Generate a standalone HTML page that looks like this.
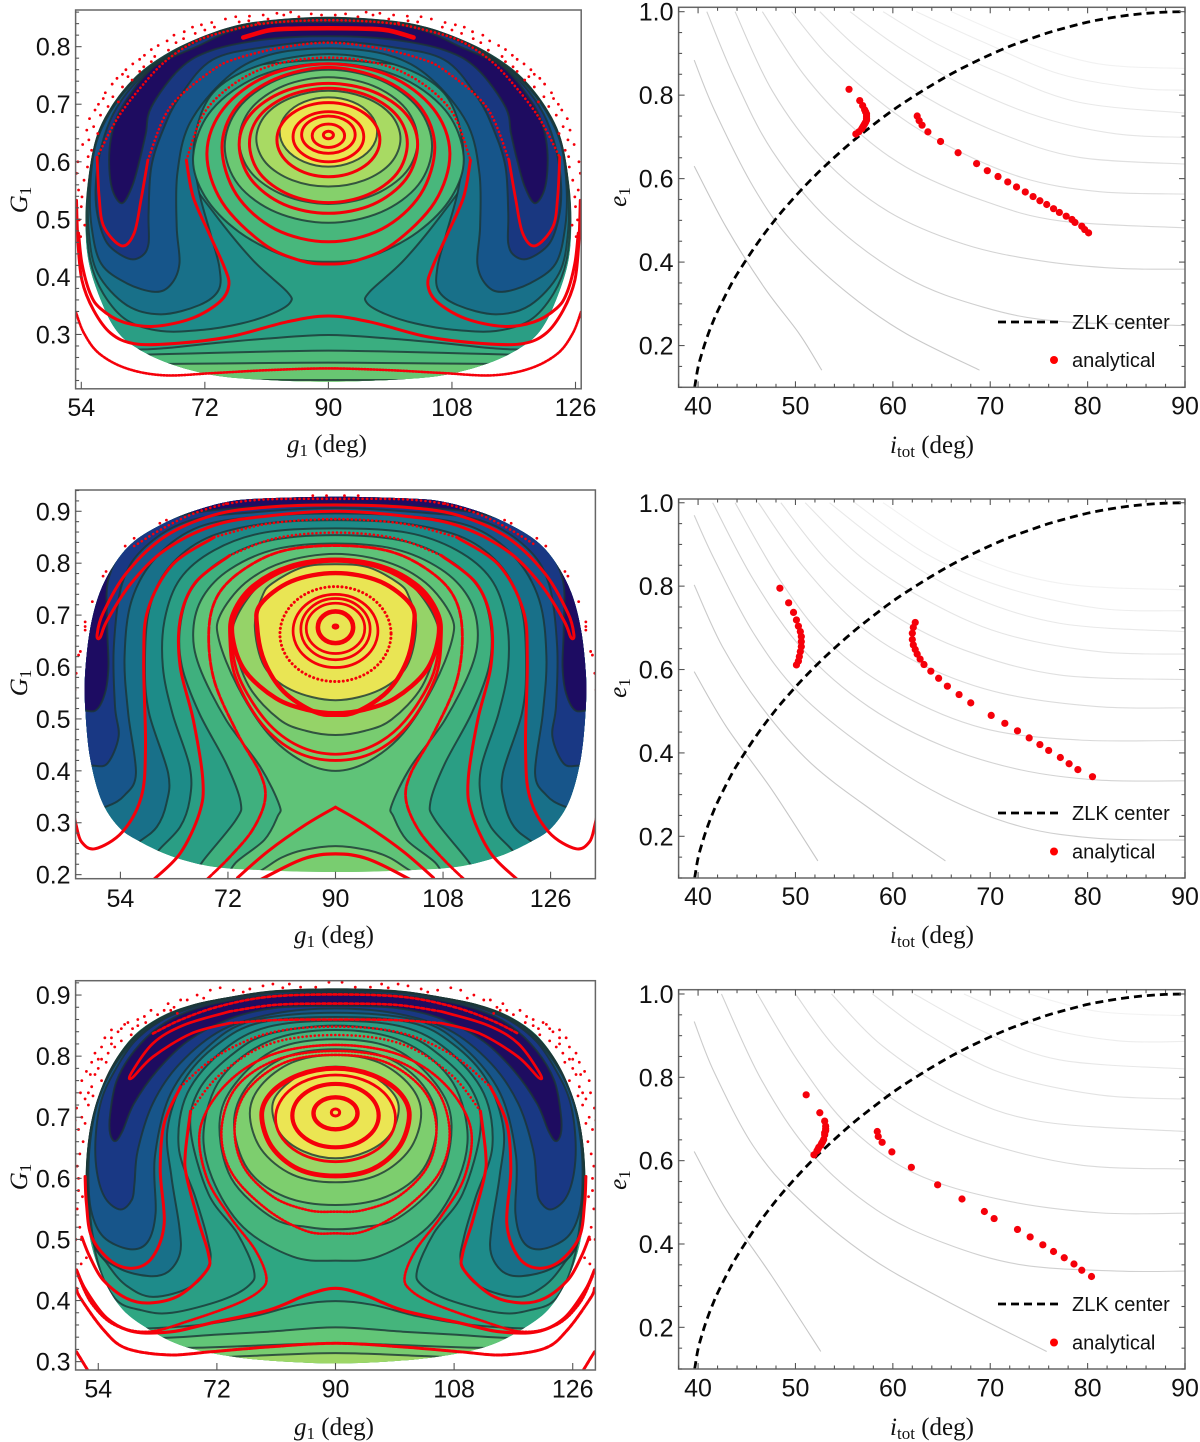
<!DOCTYPE html>
<html lang="en">
<head>
<meta charset="utf-8">
<title>ZLK phase portraits</title>
<style>
html,body{margin:0;padding:0;background:#fff;}
svg{display:block;}
text{fill:#111;}
.sans{font-family:"Liberation Sans",Arial,sans-serif;}
.serif{font-family:"Liberation Serif","Times New Roman",serif;}
</style>
</head>
<body>
<svg id="figure" xmlns="http://www.w3.org/2000/svg" width="1200" height="1442" viewBox="0 0 1200 1442">
  <rect x="0" y="0" width="1200" height="1442" fill="#fff"/>

  <text class="serif" x="327" y="452" font-size="25" text-anchor="middle"><tspan font-style="italic">g</tspan><tspan font-size="17" dy="4">1</tspan><tspan dy="-4"> (deg)</tspan></text>
  <text class="serif" x="27" y="200" font-size="25" text-anchor="middle" transform="rotate(-90 27 200)"><tspan font-style="italic">G</tspan><tspan font-size="17" dy="4">1</tspan></text>
  <text class="serif" x="932" y="453" font-size="25" text-anchor="middle"><tspan font-style="italic">i</tspan><tspan font-size="17" dy="4">tot</tspan><tspan dy="-4"> (deg)</tspan></text>
  <text class="serif" x="626" y="197" font-size="25" text-anchor="middle" transform="rotate(-90 626 197)"><tspan font-style="italic">e</tspan><tspan font-size="17" dy="4">1</tspan></text>

  <text class="serif" x="334" y="943" font-size="25" text-anchor="middle"><tspan font-style="italic">g</tspan><tspan font-size="17" dy="4">1</tspan><tspan dy="-4"> (deg)</tspan></text>
  <text class="serif" x="27" y="683" font-size="25" text-anchor="middle" transform="rotate(-90 27 683)"><tspan font-style="italic">G</tspan><tspan font-size="17" dy="4">1</tspan></text>
  <text class="serif" x="932" y="943" font-size="25" text-anchor="middle"><tspan font-style="italic">i</tspan><tspan font-size="17" dy="4">tot</tspan><tspan dy="-4"> (deg)</tspan></text>
  <text class="serif" x="626" y="688" font-size="25" text-anchor="middle" transform="rotate(-90 626 688)"><tspan font-style="italic">e</tspan><tspan font-size="17" dy="4">1</tspan></text>

  <text class="serif" x="334" y="1435" font-size="25" text-anchor="middle"><tspan font-style="italic">g</tspan><tspan font-size="17" dy="4">1</tspan><tspan dy="-4"> (deg)</tspan></text>
  <text class="serif" x="27" y="1177" font-size="25" text-anchor="middle" transform="rotate(-90 27 1177)"><tspan font-style="italic">G</tspan><tspan font-size="17" dy="4">1</tspan></text>
  <text class="serif" x="932" y="1435" font-size="25" text-anchor="middle"><tspan font-style="italic">i</tspan><tspan font-size="17" dy="4">tot</tspan><tspan dy="-4"> (deg)</tspan></text>
  <text class="serif" x="626" y="1180" font-size="25" text-anchor="middle" transform="rotate(-90 626 1180)"><tspan font-style="italic">e</tspan><tspan font-size="17" dy="4">1</tspan></text>

  <g id="plots"></g>

  <g>
    <line x1="998" y1="322" x2="1059" y2="322" stroke="#000" stroke-width="2.8" stroke-dasharray="8 5"/>
    <text class="sans" x="1072" y="329" font-size="20">ZLK center</text>
    <circle cx="1054" cy="360" r="4" fill="#f00"/>
    <text class="sans" x="1072" y="367" font-size="20">analytical</text>
  </g>
  <g>
    <line x1="998" y1="813" x2="1059" y2="813" stroke="#000" stroke-width="2.8" stroke-dasharray="8 5"/>
    <text class="sans" x="1072" y="820" font-size="20">ZLK center</text>
    <circle cx="1054" cy="851.5" r="4" fill="#f00"/>
    <text class="sans" x="1072" y="858.5" font-size="20">analytical</text>
  </g>
  <g>
    <line x1="998" y1="1304" x2="1059" y2="1304" stroke="#000" stroke-width="2.8" stroke-dasharray="8 5"/>
    <text class="sans" x="1072" y="1311" font-size="20">ZLK center</text>
    <circle cx="1054" cy="1342.5" r="4" fill="#f00"/>
    <text class="sans" x="1072" y="1349.5" font-size="20">analytical</text>
  </g>
</svg>

<script>
/* ---------- shared tick labels ---------- */
const leftXTickLabels = [54, 72, 90, 108, 126];
const p1YTickLabels = ['0.3', '0.4', '0.5', '0.6', '0.7', '0.8'];
const p2YTickLabels = ['0.2', '0.3', '0.4', '0.5', '0.6', '0.7', '0.8', '0.9'];
const p3YTickLabels = ['0.3', '0.4', '0.5', '0.6', '0.7', '0.8', '0.9'];
const rightXTickLabels = [40, 50, 60, 70, 80, 90];
const rightYTickLabels = ['0.2', '0.4', '0.6', '0.8', '1.0'];

/* ---------- left-column data: half curves as [degrees from g1=90, G1] ---------- */
const p1Domain = [[0,.852],[8.8,.846],[14.4,.834],[19.9,.81],[24.4,.782],[28.3,.746],[31.7,.695],[33.9,.64],[35.1,.56],[35.4,.487],[34.9,.423],[33.2,.36],[31.1,.31],[28.3,.279],[23.3,.25],[16.6,.229],[8.8,.221],[0,.218]];
const p1Horseshoe5 = [[0,.851],[8.8,.845],[14.4,.833],[19.9,.809],[24.4,.78],[28.3,.744],[31.7,.693],[33.9,.637],[35,.557],[35.3,.51],[34.7,.429],[32.8,.371],[29.4,.325],[24.4,.306],[18.3,.308],[12.7,.319],[8.2,.336],[5.6,.355],[6,.374],[11,.429],[16.6,.51],[20.2,.574],[20.9,.638],[18.5,.71],[12.1,.762],[6,.773],[0,.777]];
const p1Horseshoe4 = [[0,.85],[8.8,.844],[14.4,.832],[19.9,.808],[24.4,.778],[28.3,.742],[31.7,.691],[33.9,.634],[34.9,.557],[34.9,.476],[33.6,.406],[29.4,.351],[24.4,.335],[18.8,.351],[16,.377],[15.9,.418],[17.2,.476],[19,.557],[19.5,.638],[16.8,.72],[9.9,.768],[0,.787]];
const p1Horseshoe3 = [[0,.849],[8.8,.843],[14.4,.831],[19.9,.806],[24.4,.776],[28.3,.74],[31.7,.688],[33.9,.63],[34.7,.557],[34.5,.487],[33.1,.423],[29.4,.389],[25.3,.374],[23,.386],[21.7,.423],[22.1,.487],[22,.58],[20.2,.667],[14.9,.745],[8.8,.785],[0,.797]];
const p1Horseshoe2 = [[0,.848],[8.8,.842],[14.4,.83],[19.9,.805],[24.4,.774],[28.3,.735],[31.4,.682],[33.2,.62],[33.9,.557],[33.6,.505],[32.2,.458],[29.2,.432],[27.2,.436],[26.2,.458],[26.2,.51],[25.8,.591],[24.1,.655],[21.7,.712],[16.9,.777],[8.8,.8],[0,.809]];
const p1Horseshoe1 = [[0,.843],[8.8,.84],[14.4,.826],[19.2,.8],[24.4,.773],[26.4,.754],[28.3,.727],[30.8,.678],[31.9,.62],[31.6,.557],[30.1,.528],[28.6,.557],[27.5,.603],[26.6,.649],[25.8,.695],[21.7,.761],[16.9,.794],[8.8,.813],[0,.818]];
const p1Cap1 = [[0,.299],[8.8,.293],[16.6,.285],[24,.276],[30,.274],[42,.28]];
const p1Cap2 = [[0,.272],[10,.27],[20,.267],[30,.264],[42,.262]];
const p1Cap3 = [[0,.251],[12,.25],[23,.249],[42,.249]];
const p1Cap4 = [[0,.221],[4.6,.221],[12,.221]];
const p1Island1 = [[0,.771],[9.85,.75],[17,.69],[19.7,.61],[18,.54],[13,.478],[6,.435],[0,.4264]];
const p1Island2 = [[0,.76],[7.55,.742],[13.1,.693],[15.1,.627],[13.1,.56],[7.55,.512],[0,.494]];
const p1Island3 = [[0,.7468],[6.5,.732],[11.3,.692],[13,.637],[11.3,.582],[6.5,.542],[0,.5267]];
const p1Island4 = [[0,.7235],[5.25,.712],[9.1,.682],[10.5,.64],[9.1,.598],[5.25,.568],[0,.557]];
const p1Island5 = [[0,.712],[3.55,.704],[6.15,.682],[7.1,.652],[6.15,.622],[3.55,.6],[0,.5915]];
const p1Rings = [[.653,.64,.73],[.6656,.625,2.36],[.6795,.6147,3.9],[.687,.6,5.15],[.7027,.574,7.5]];
const p1RedLoop6 = [[0,.7277],[5.75,.715],[10,.68],[11.5,.632],[10,.58],[5.75,.543],[0,.529]];
const p1RedLoop7 = [[0,.7363],[6.5,.722],[11.3,.683],[13,.63],[11.3,.57],[6.5,.526],[0,.5105]];
const p1RedLoop8 = [[0,.764],[7.75,.744],[13.4,.695],[15.5,.625],[13.4,.543],[7.75,.483],[0,.461]];
const p1RedLoop9 = [[0,.77],[8.8,.75],[15.3,.692],[17.7,.615],[15.5,.53],[9.5,.458],[4,.428],[0,.4225]];
const p1RedBananaRim = [[0,.846],[8.8,.841],[14.4,.828],[19.2,.81],[23.3,.779],[26.5,.741],[30.6,.678],[33.7,.608]];
const p1RedBananaTop = [[0,.807],[6.5,.799],[12.9,.781],[16.9,.759],[23.1,.694],[26.3,.603]];
const p1RedBananaLobe = [[33.7,.608],[33.4,.539],[32.7,.487],[30.1,.454],[28.3,.476],[27.3,.534],[26.3,.603]];
const p1RedStrip = [[0,.832],[6,.831],[8.8,.828],[12.4,.816]];
const p1RedLobeTop = [[0,.781],[10,.76],[17.5,.695],[20.7,.603]];
const p1RedLobe = [[20.7,.603],[19.7,.539],[17.4,.476],[15.2,.418],[14.5,.386],[15.8,.357],[19.9,.328],[25.5,.314],[30,.322],[33.2,.345],[34.7,.371],[35.9,.423],[36.4,.476]];
const p1RedSaddle = [[0,.332],[6,.322],[14.4,.296],[22.7,.284],[28.3,.284],[31.7,.302],[34.2,.342],[35.9,.394],[36.5,.464],[36.7,.533]];
const p1RedBottom = [[0,.241],[8.8,.238],[16.6,.233],[23.9,.229],[29.4,.241],[33.4,.267],[35.6,.302],[36.8,.339]];
const p1Scatter = [[36.7,.58],[36.4,.551],[36,.522],[36.3,.499],[36.1,.47],[35.6,.568],[35.1,.591],[34.5,.62],[34.9,.638],[33.6,.649],[33.2,.681],[32.1,.696],[31.4,.713],[30.6,.704],[28.6,.742],[29.2,.748],[26.9,.765],[25.8,.774],[27.5,.757],[23.3,.794],[22.2,.807],[19.4,.823],[16.6,.834],[13,.843],[10.2,.841],[6.5,.855],[4.3,.852],[2.5,.857],[8.8,.848],[34.2,.661],[32.8,.71],[30,.73],[25.3,.783],[21.1,.814],[18,.829],[11.6,.845],[35,.609],[35.9,.539],[36.5,.6],[35.8,.63],[35.2,.655],[34.8,.675],[34,.69],[33.5,.7],[32.5,.72],[31.5,.735],[30.8,.745],[30,.752],[29.5,.76],[28.5,.77],[27.5,.778],[26.8,.785],[25.8,.795],[24.8,.802],[23.5,.81],[22.5,.82],[21,.826],[19.8,.834],[18.5,.838],[17,.842],[15,.848],[13.5,.852],[11.5,.853],[9.5,.855],[7.5,.858],[5.5,.86],[1,.855],[37,.62],[36.8,.52],[35.5,.49]];

const p2Domain = [[0,.928],[11.3,.925],[17.7,.919],[24.1,.899],[29.2,.874],[33.7,.842],[36.9,.8],[39.5,.742],[41.1,.671],[41.9,.588],[41.9,.524],[41.1,.427],[39.2,.344],[36.3,.292],[32.8,.264],[27.3,.235],[20.3,.215],[11.3,.208],[0,.205]];
const p2Arch1 = [[0,.838],[10,.827],[17.7,.788],[22.2,.735],[23.8,.671],[22.8,.601],[18.3,.498],[12.6,.408],[9.4,.334],[9.7,.312],[11.9,.267],[16.7,.223],[18.3,.19]];
const p2Arch2 = [[0,.854],[11.3,.843],[19,.806],[24.1,.75],[26,.678],[25.7,.601],[22.8,.511],[18.3,.414],[15.9,.341],[16.7,.305],[22.2,.226],[24,.19]];
const p2Arch3 = [[0,.867],[11.9,.859],[20.3,.825],[26,.77],[28.6,.691],[28.9,.601],[27.3,.511],[24.4,.408],[24.4,.344],[26,.292],[29.6,.247],[33,.2]];
const p2Arch4 = [[0,.883],[11.9,.876],[21.6,.848],[28,.79],[31.2,.71],[31.9,.601],[31.2,.511],[28,.395],[28.3,.337],[29.9,.292],[32.8,.264],[37,.23]];
const p2Arch5 = [[0,.896],[12.6,.89],[22.8,.87],[29.9,.813],[34.1,.729],[35.3,.62],[34.7,.511],[33.4,.395],[35.3,.353],[38.2,.332],[43,.32]];
const p2Arch6 = [[0,.906],[12.6,.899],[24.1,.883],[31.8,.832],[35.7,.761],[37.1,.639],[36.9,.524],[36.3,.466],[38.2,.414],[40.8,.41],[44,.41]];
const p2Arch7 = [[0,.914],[12.6,.909],[25.4,.893],[33.7,.851],[37.9,.774],[38.2,.678],[38,.601],[38.6,.549],[40.2,.516],[43,.52]];
const p2Cap1 = [[0,.255],[5.5,.247],[9,.233],[11.9,.212],[15,.19]];
const p2Island1 = [[0,.818],[8.7,.802],[15.1,.762],[19.3,.7],[19.5,.652],[16.4,.563],[11.3,.472],[5.5,.418],[0,.4]];
const p2Island2 = [[0,.809],[7.4,.795],[12.6,.76],[16.4,.7],[17.1,.652],[14.5,.563],[9.4,.499],[4.9,.477],[0,.469]];
const p2Island3 = [[0,.798],[5.5,.792],[10.6,.761],[12.3,.735],[13.5,.678],[11.9,.601],[7.4,.556],[0,.536]];
const p2Rings = [[.681,.675,.4],[.707,.646,2.95],[.723,.626,4.9],[.732,.614,5.8],[.74,.599,7.1],[.755,.572,9.3]];
const p2RedLoop6 = [[0,.781],[7.4,.765],[12.6,.72],[13.1,.675],[11.9,.611],[8.7,.553],[3.6,.514],[0,.508]];
const p2RedLoop7 = [[0,.805],[7.4,.792],[13.2,.755],[16.7,.705],[17.2,.656],[15.1,.592],[10,.54],[4.9,.518],[0,.511]];
const p2RedLoop8 = [[0,.806],[7.4,.793],[13.5,.756],[16.9,.705],[17.4,.656],[16.1,.579],[11.6,.496],[6.2,.448],[0,.432]];
const p2RedLoop9 = [[0,.808],[7.8,.795],[13.9,.757],[17.2,.705],[17.7,.656],[16.7,.579],[12.3,.49],[6.5,.436],[0,.42]];
const p2RedOpen10 = [[0,.834],[8.7,.824],[15.1,.79],[19.6,.74],[21.2,.671],[20.3,.574],[16.4,.472],[12.6,.395],[11.8,.344],[13.9,.286],[17.7,.234],[21.6,.19]];
const p2RedTop11 = [[0,.859],[10,.848],[17.7,.815]];
const p2RedSide11 = [[17.7,.815],[23.5,.762],[26,.691],[26,.601],[23.8,.498],[22.2,.382],[22.8,.318],[26,.241],[30.5,.19]];
const p2RedTop12 = [[0,.885],[11.3,.876],[20.3,.85]];
const p2RedSide12 = [[20.3,.85],[27.3,.797],[31.4,.71],[32.1,.614],[31.8,.446],[32.5,.35],[35.7,.282],[40.2,.25],[42.5,.263],[43.4,.295],[44,.33]];
const p2RedBanana = [[0,.912],[11.3,.908],[20.3,.893],[28.6,.851],[35,.781],[38.9,.704],[39.9,.662],[39.4,.657],[38.2,.69],[34.3,.76],[28.6,.825],[20.3,.873],[11.3,.891],[0,.9]];
const p2RedPeak = [[0,.33],[4.9,.297],[11.3,.245],[16.4,.194]];
const p2RedArc = [[0,.24],[5.5,.23],[12.6,.19]];
const p2RedRim = [[0,.924],[11.3,.923],[18.3,.914],[24.1,.894],[29.2,.865],[33.7,.833]];
const p2Scatter = [[3.8,.93],[1.5,.93],[18.3,.915],[29.4,.877],[28.3,.883],[33.7,.848],[35.2,.833],[38.4,.784],[38.9,.775],[40.7,.726],[41.9,.687],[41.9,.678],[41.9,.671],[42.7,.63],[43,.623],[43.4,.588],[43.6,.556]];

const p3Domain = [[0,.911],[9.1,.908],[16.1,.897],[21.9,.884],[26.5,.865],[30.5,.835],[33.7,.789],[36,.734],[37.3,.679],[37.9,.614],[37.8,.548],[37,.488],[35.2,.434],[32.3,.385],[28.2,.352],[23,.325],[16.1,.309],[9.1,.301],[0,.297]];
const p3Horseshoe6 = [[0,.91],[9.1,.907],[16.1,.896],[21.9,.883],[26.5,.863],[30.5,.832],[33.8,.785],[36,.734],[37.2,.679],[37.8,.614],[36.4,.477],[33.5,.404],[29.4,.384],[24.8,.38],[17.2,.401],[13.1,.425],[12.4,.45],[14.9,.51],[19.3,.575],[22,.68],[20.7,.745],[16,.8],[10.2,.836],[0,.85]];
const p3Horseshoe5 = [[0,.91],[9.1,.906],[16.1,.896],[21.9,.882],[26.5,.862],[30.5,.831],[33.8,.784],[36,.734],[37.2,.679],[37.7,.614],[37,.504],[34.7,.461],[31.8,.425],[27.7,.406],[21.9,.423],[19.1,.461],[19.5,.504],[21.3,.57],[23.8,.652],[22.5,.739],[17,.81],[10.2,.848],[0,.858]];
const p3Horseshoe4 = [[0,.909],[9.1,.906],[16.1,.896],[21.9,.882],[26.5,.862],[30.5,.83],[33.8,.783],[36,.734],[37.2,.679],[37.7,.614],[37.6,.586],[36.4,.488],[32.9,.453],[28.3,.44],[25.4,.447],[23.6,.477],[23.7,.521],[24.9,.603],[25.5,.68],[23,.76],[17.8,.82],[11.4,.855],[0,.864]];
const p3Horseshoe3 = [[0,.908],[9.1,.905],[16.1,.895],[21.9,.881],[26.5,.86],[30.5,.827],[33.8,.78],[35.9,.731],[37,.679],[37.5,.614],[37.1,.548],[35.2,.504],[31.2,.484],[28.5,.496],[27.3,.543],[27.4,.636],[25,.739],[19.4,.815],[12.6,.858],[0,.871]];
const p3Horseshoe2 = [[0,.907],[9.1,.904],[16.1,.894],[21.9,.879],[26.5,.858],[30.5,.824],[33.4,.778],[35.5,.729],[36.4,.668],[36.2,.61],[34.9,.567],[32.6,.549],[30.9,.565],[30.5,.592],[30,.646],[27.7,.723],[23.6,.788],[17.2,.843],[9.1,.87],[0,.878]];
const p3Horseshoe1 = [[0,.904],[9.1,.9],[16.1,.891],[21.9,.875],[26.5,.85],[30.5,.809],[33.2,.76],[34.2,.705],[34.2,.673],[33.4,.661],[32.3,.678],[30.6,.722],[27.1,.776],[22.4,.825],[16.1,.861],[9.1,.879],[0,.882]];
const p3Cap1 = [[0,.399],[5.6,.393],[12.6,.374],[20.7,.36],[28.9,.354],[40,.35]];
const p3Cap2 = [[0,.356],[10.2,.349],[18.4,.344],[25.4,.339],[40,.335]];
const p3Cap3 = [[0,.33],[10.2,.327],[20.1,.323],[40,.32]];
const p3Cap4 = [[0,.314],[13.7,.309],[22,.305]];
const p3Island1 = [[0,.8428],[10,.825],[17.3,.765],[20,.679],[18.7,.6],[14,.52],[6.5,.472],[0,.4653]];
const p3Island2 = [[0,.8276],[8.9,.812],[15.2,.755],[17.6,.69],[15.8,.6],[9.5,.535],[4,.52],[0,.5166]];
const p3Island3 = [[0,.8112],[7.7,.798],[13.3,.752],[15.4,.69],[13.3,.615],[7.7,.57],[0,.5564]];
const p3Island4 = [[0,.8019],[6.5,.79],[11.3,.752],[13,.7064],[11.3,.648],[6.5,.606],[0,.5935]];
const p3Island5 = [[0,.7828],[4.8,.772],[8.3,.745],[9.6,.7146],[8.3,.672],[4.8,.644],[0,.6328]];
const p3Rings = [[.7135,.702,.63],[.7326,.6803,3.34],[.7545,.6508,6.55],[.7692,.6273,9.1]];
const p3RedLoop4 = [[0,.7801],[5.6,.769],[9.7,.7405],[11.2,.7037],[9.7,.652],[5.6,.615],[0,.6039]];
const p3RedLoop5 = [[0,.802],[7.6,.79],[13.3,.745],[15.3,.685],[14,.62],[9.5,.57],[4.2,.548],[0,.5455]];
const p3RedLoop6 = [[0,.8085],[8.7,.795],[15,.75],[17.3,.68],[15.8,.61],[10.5,.55],[4.5,.514],[0,.51]];
const p3RedBananaOuterTop = [[0,.886],[9.1,.884],[16.1,.873]];
const p3RedBananaInnerTop = [[0,.86],[9.1,.859],[16.1,.854]];
const p3RedBananaSide = [[16.1,.873],[23,.851],[27.7,.821],[31,.772],[30.8,.765],[27.7,.799],[21.9,.837],[16.1,.854]];
const p3RedTop = [[0,.901],[10.2,.897],[17.8,.881],[23.6,.859],[27.7,.837]];
const p3RedLobe1Top = [[0,.8483],[10,.838],[18,.8],[23.5,.75]];
const p3RedLobe1 = [[23.5,.75],[26,.69],[26.6,.614],[26,.526],[27.7,.472],[30.6,.453],[34,.464],[37,.504],[37.8,.559],[38,.603]];
const p3RedLobe2Top = [[0,.8346],[10,.82],[17.5,.77],[22,.71]];
const p3RedLobe2 = [[22,.71],[22.8,.64],[22.6,.603],[20.8,.53],[19.3,.477],[19.5,.45],[23.6,.409],[28.2,.396],[31.8,.404],[35.3,.434],[37.3,.472],[38.5,.504]];
const p3RedLobe3 = [[0,.8183],[9.5,.803],[16.5,.755],[20.5,.683],[19.6,.603],[16,.5373],[12.2,.483],[10.5,.439],[11.4,.417],[14.9,.395],[21.9,.368],[28.3,.349],[33.5,.36],[37,.395],[39,.439]];
const p3RedSaddle = [[0,.42],[4.4,.409],[10.2,.384],[19,.363],[24.8,.349],[30.6,.349],[34.7,.371],[37.9,.417],[39.3,.45]];
const p3RedBottom = [[0,.33],[10.2,.324],[19,.316],[25.4,.311],[31.8,.322],[35.2,.352],[38.7,.404],[39.3,.42]];
const p3RedCorner = [[39.3,.316],[37.6,.286]];
const p3Scatter = [[3,.913],[5.3,.913],[9.5,.918],[11,.915],[14,.905],[17.5,.912],[19,.908],[21,.9],[20,.895],[22.5,.892],[25.4,.886],[25,.875],[26,.875],[28,.875],[30,.86],[30,.85],[28.8,.855],[30.8,.845],[31,.835],[33,.84],[32.5,.825],[34,.82],[33.5,.815],[34.5,.805],[35.5,.795],[34.8,.79],[36,.78],[36.5,.77],[35.5,.76],[37,.75],[37.5,.74],[38,.73],[37.5,.72],[38.5,.7],[38,.69],[39,.68],[38.3,.66],[38.8,.64],[39.2,.62],[36,.795],[34,.83],[32,.852],[39,.58],[39.2,.55],[38.8,.52],[39.4,.5],[38.6,.46],[38.9,.44],[23.5,.892],[24.5,.88],[27,.868],[29,.865],[31.5,.855],[32.5,.845],[34,.843],[35,.83],[35.5,.815],[36.5,.805],[37,.79],[37.8,.775],[38.5,.76],[38.7,.74],[39.3,.715],[39.5,.695],[39.6,.66],[39,.6],[38.4,.57],[38.6,.5],[37.8,.47],[37.2,.77],[36.8,.735],[7,.918],[13,.91],[15.5,.908],[1,.921],[8,.912],[24,.87]];

/* ---------- right-column data: [i_tot in degrees, e1] ---------- */
const zlkCenter = [[39.65,.1],[40,.148],[40.5,.19],[41,.225],[41.5,.255],[42,.282],[43,.329],[44,.371],[46,.442],[48,.504],[50,.558],[52,.607],[54,.651],[56,.692],[58,.729],[60,.764],[62,.795],[64,.824],[66,.851],[68,.875],[70,.897],[72,.917],[74,.934],[76,.95],[78,.963],[80,.975],[82,.984],[84,.991],[86,.996],[88,.999],[90,1]];

const p1Gray1 = [[39.6,.63],[42.9,.483],[46.8,.339],[50.4,.228],[52.7,.141]];
const p1Gray2 = [[39.6,.884],[41.7,.763],[45.7,.579],[49.6,.451],[55.5,.323],[61.4,.228],[68.9,.141]];
const p1Gray3 = [[40.9,1],[43.7,.843],[47.6,.667],[53.5,.499],[61.4,.363],[69.3,.292],[77.1,.258],[90,.248]];
const p1Gray4 = [[43.8,1],[47.6,.811],[52.7,.651],[59.4,.523],[67.3,.443],[75.2,.403],[83,.385],[90,.383]];
const p1Gray5 = [[46.6,1],[50.8,.851],[55.5,.731],[61.4,.627],[69.3,.547],[77.1,.499],[90,.482]];
const p1Gray6 = [[49.6,1],[53.5,.891],[59.4,.771],[65.3,.683],[73.2,.603],[81.1,.569],[90,.563]];
const p1Gray7 = [[52.5,1],[56.7,.907],[63.4,.795],[71.2,.707],[79.1,.651],[90,.635]];
const p1Gray8 = [[55.6,1],[60.6,.915],[67.3,.823],[75.2,.747],[83,.707],[90,.699]];
const p1Gray9 = [[59,1],[64.5,.923],[71.2,.851],[79.1,.783],[90,.757]];
const p1Gray10 = [[62.4,1],[69.3,.927],[77.1,.851],[85,.817],[90,.812]];
const p1Gray11 = [[66,1],[73.1,.93],[81.1,.875],[90,.864]];
const p1AnalyticalA = [[55.5,.814],[56.6,.787],[56.9,.775],[57.1,.765],[57.2,.76],[57.3,.755],[57.3,.75],[57.3,.745],[57.3,.74],[57.2,.735],[57.1,.731],[57,.727],[56.9,.723],[56.8,.719],[56.5,.712],[56.2,.707]];
const p1AnalyticalB = [[62.5,.75],[62.7,.739],[63,.728],[63.6,.712],[64.9,.689],[66.7,.662],[68.6,.636],[69.7,.619],[70.8,.605],[71.8,.592],[72.7,.58],[73.6,.568],[74.4,.557],[75.1,.547],[75.8,.538],[76.5,.528],[77.1,.519],[77.8,.51],[78.4,.502],[78.7,.495],[79.4,.486],[79.7,.478],[80.1,.47]];

const p2Gray1 = [[39.6,.595],[42.9,.463],[47.6,.311],[52.3,.141]];
const p2Gray2 = [[39.6,.803],[42.5,.655],[46.5,.511],[51.6,.375],[58.3,.255],[65.4,.141]];
const p2Gray3 = [[39.6,.97],[41.7,.863],[45.7,.687],[50.4,.543],[57.5,.407],[65.3,.295],[73.2,.223],[81.1,.195],[90,.191]];
const p2Gray4 = [[41.5,1],[45.7,.815],[50.8,.647],[57.5,.511],[65.3,.415],[73.2,.359],[81.1,.335],[90,.333]];
const p2Gray5 = [[43.8,1],[48.4,.815],[53.5,.663],[60.6,.543],[69.3,.459],[79.1,.431],[90,.43]];
const p2Gray6 = [[46.2,1],[50.8,.847],[56.7,.703],[63.4,.607],[71.2,.543],[81.1,.511],[90,.508]];
const p2Gray7 = [[48.5,1],[53.5,.855],[59.8,.735],[67.3,.647],[77.1,.587],[90,.576]];
const p2Gray8 = [[51,1],[56.7,.87],[63.4,.767],[71.2,.687],[81.1,.643],[90,.637]];
const p2Gray9 = [[53.5,1],[59.8,.886],[67.3,.783],[77.1,.711],[90,.691]];
const p2Gray10 = [[56.1,1],[63.4,.878],[71.2,.799],[81.1,.747],[90,.741]];
const p2Gray11 = [[59,1],[67.3,.878],[77.1,.807],[90,.791]];
const p2AnalyticalA = [[48.4,.795],[49.3,.76],[49.8,.737],[50.1,.719],[50.3,.704],[50.5,.691],[50.6,.679],[50.6,.667],[50.6,.655],[50.5,.643],[50.4,.631],[50.3,.62],[50.1,.611]];
const p2AnalyticalB = [[62.3,.713],[62.1,.701],[62,.687],[62,.672],[62.1,.659],[62.3,.648],[62.5,.637],[62.8,.625],[63.2,.612],[63.9,.596],[64.7,.579],[65.6,.56],[66.8,.54],[68,.52],[70.1,.49],[71.5,.471],[72.8,.453],[74,.436],[75.1,.42],[76,.406],[77.2,.389],[78.1,.374],[79,.36],[80.5,.343]];

const p3Gray1 = [[39.6,.622],[42.9,.482],[47.6,.322],[52.6,.142]];
const p3Gray2 = [[39.6,.934],[41.7,.81],[45.7,.634],[50.4,.506],[57.5,.37],[65.3,.266],[75.8,.142]];
const p3Gray3 = [[42.4,1],[46.5,.794],[51.6,.618],[58.3,.482],[65.3,.402],[73.2,.35],[83,.335],[90,.335]];
const p3Gray4 = [[46.1,1],[50.4,.834],[55.5,.682],[62.2,.57],[71.2,.506],[81.1,.475],[90,.474]];
const p3Gray5 = [[50,1],[54.3,.866],[60.6,.738],[68.5,.65],[79.1,.59],[90,.58]];
const p3Gray6 = [[53.7,1],[59,.874],[66.5,.762],[75.2,.694],[90,.67]];
const p3Gray7 = [[57.9,1],[63.4,.906],[71.2,.81],[81.1,.758],[90,.748]];
const p3Gray8 = [[62.2,1],[69.3,.91],[77.1,.842],[90,.82]];
const p3Gray9 = [[67.3,1],[75.2,.922],[83,.888],[90,.886]];
const p3Gray10 = [[74,1],[81.1,.958],[90,.948]];
const p3AnalyticalA = [[51.1,.758],[52.5,.715],[53,.695],[53.1,.683],[53.1,.672],[53,.662],[52.9,.651],[52.7,.642],[52.4,.632],[52.2,.623],[51.9,.614],[53.1,.677],[53,.667],[52.8,.646],[52.6,.637],[52.3,.627]];
const p3AnalyticalB = [[58.4,.67],[58.5,.658],[58.9,.644],[59.9,.621],[61.9,.584],[64.6,.542],[67.1,.508],[69.4,.478],[70.4,.461],[72.8,.435],[74.1,.417],[75.4,.398],[76.5,.382],[77.6,.367],[78.6,.352],[79.4,.337],[80.4,.322]];

/* ---------- drawing helpers ---------- */
const NS = 'http://www.w3.org/2000/svg';
const plots = document.getElementById('plots');
const CONTOUR = 'rgba(28,52,52,0.8)';
const RED = '#f5000a';
const DOTS = '0.1 4';

function el(parent, tag, name) {
  const e = document.createElementNS(NS, tag);
  
  
  parent.appendChild(e);
  return e;
}
function scale(a, b, p, q) { return v => p + (v - a) / (b - a) * (q - p); }
function fmt(v) { return v.toFixed(2); }
function spline(p, closed) {
  const n = p.length;
  let d = 'M' + fmt(p[0][0]) + ' ' + fmt(p[0][1]);
  const last = closed ? n : n - 1;
  for (let i = 0; i < last; i++) {
    const p0 = closed ? p[(i - 1 + n) % n] : p[Math.max(i - 1, 0)];
    const p1 = p[i];
    const p2 = closed ? p[(i + 1) % n] : p[i + 1];
    const p3 = closed ? p[(i + 2) % n] : p[Math.min(i + 2, n - 1)];
    d += 'C' + fmt(p1[0] + (p2[0] - p0[0]) / 6) + ' ' + fmt(p1[1] + (p2[1] - p0[1]) / 6) + ' '
      + fmt(p2[0] - (p3[0] - p1[0]) / 6) + ' ' + fmt(p2[1] - (p3[1] - p1[1]) / 6) + ' '
      + fmt(p2[0]) + ' ' + fmt(p2[1]);
  }
  return d + (closed ? 'Z' : '');
}
function mirrorLoop(half) {
  const left = half.map(q => [90 - q[0], q[1]]);
  const right = half.slice().reverse().filter(q => q[0] > 0).map(q => [90 + q[0], q[1]]);
  return left.concat(right);
}
function mirrorOpen(half) {
  const left = half.slice().reverse().map(q => [90 - q[0], q[1]]);
  const right = half.filter(q => q[0] > 0).map(q => [90 + q[0], q[1]]);
  return left.concat(right);
}

function makePanel(id, l, r, t, b, xmin, xmax, ymin, ymax) {
  const g = el(plots, 'g', id + '-panel');
  const x = scale(xmin, xmax, l, r);
  const y = scale(ymin, ymax, b, t);
  return { id, g, l, r, t, b, xmin, xmax, ymin, ymax, x, y,
    px: pts => pts.map(q => [x(q[0]), y(q[1])]) };
}
function frameClip(P) {
  const c = el(P.g, 'clipPath', P.id + '-frame-clip');
  c.setAttribute('id', P.id + '-frame-clip');
  const r = el(c, 'rect', P.id + '-frame-clip-rect');
  r.setAttribute('x', P.l); r.setAttribute('y', P.t);
  r.setAttribute('width', P.r - P.l); r.setAttribute('height', P.b - P.t);
}
function tick(P, x1, y1, x2, y2, name) {
  const t = el(P.g, 'line', name);
  t.setAttribute('x1', x1); t.setAttribute('y1', y1);
  t.setAttribute('x2', x2); t.setAttribute('y2', y2);
  t.setAttribute('stroke', '#555'); t.setAttribute('stroke-width', '1.1');
}
function label(P, text, x, y, anchor, name) {
  const t = el(P.g, 'text', name);
  t.setAttribute('class', 'sans');
  t.setAttribute('x', x); t.setAttribute('y', y);
  t.setAttribute('font-size', '25');
  t.setAttribute('text-anchor', anchor);
  t.textContent = text;
}
function frame(P) {
  const f = el(P.g, 'rect', P.id + '-plot-frame');
  f.setAttribute('x', P.l); f.setAttribute('y', P.t);
  f.setAttribute('width', P.r - P.l); f.setAttribute('height', P.b - P.t);
  f.setAttribute('fill', 'none'); f.setAttribute('stroke', '#666'); f.setAttribute('stroke-width', '1.5');
}

/* ---------- left column ---------- */
function leftBase(P, domain, baseColor) {
  frameClip(P);
  const c = el(P.g, 'clipPath', P.id + '-domain-clip');
  c.setAttribute('id', P.id + '-domain-clip');
  const d = el(c, 'path', P.id + '-domain-clip-path');
  d.setAttribute('d', spline(P.px(mirrorLoop(domain)), true));
  P.fills = el(P.g, 'g', P.id + '-contour-fill-group');
  P.fills.setAttribute('clip-path', 'url(#' + P.id + '-domain-clip)');
  const base = el(P.fills, 'path', P.id + '-domain-fill');
  base.setAttribute('d', spline(P.px(mirrorLoop(domain)), true));
  base.setAttribute('fill', baseColor);
  P.reds = null;
}
function region(P, half, color, name) {
  const e = el(P.fills, 'path', name);
  e.setAttribute('d', spline(P.px(mirrorLoop(half)), true));
  e.setAttribute('fill', color);
  e.setAttribute('stroke', CONTOUR);
  e.setAttribute('stroke-width', '2');
}
function arch(P, half, color, name) {
  const pts = P.px(mirrorOpen(half));
  const d = spline(pts, false);
  const n = pts.length - 1;
  const e = el(P.fills, 'path', name);
  e.setAttribute('d', d + 'L' + P.r + ' ' + pts[n][1] + 'L' + P.r + ' ' + P.t + 'L' + P.l + ' ' + P.t + 'L' + P.l + ' ' + pts[0][1] + 'Z');
  e.setAttribute('fill', color);
  const s = el(P.fills, 'path', name + '-line');
  s.setAttribute('d', d);
  s.setAttribute('fill', 'none');
  s.setAttribute('stroke', CONTOUR);
  s.setAttribute('stroke-width', '2');
}
function cap(P, half, color, name) {
  const pts = P.px(mirrorOpen(half));
  const d = spline(pts, false);
  const n = pts.length - 1;
  const e = el(P.fills, 'path', name);
  e.setAttribute('d', d + 'L' + pts[n][0] + ' ' + P.b + 'L' + pts[0][0] + ' ' + P.b + 'Z');
  e.setAttribute('fill', color);
  const s = el(P.fills, 'path', name + '-line');
  s.setAttribute('d', d);
  s.setAttribute('fill', 'none');
  s.setAttribute('stroke', CONTOUR);
  s.setAttribute('stroke-width', '2');
}
function redGroup(P) {
  if (!P.reds) {
    P.reds = el(P.g, 'g', P.id + '-poincare-section');
    P.reds.setAttribute('clip-path', 'url(#' + P.id + '-frame-clip)');
  }
  return P.reds;
}
function styleRed(e, w, dash) {
  e.setAttribute('fill', 'none');
  e.setAttribute('stroke', RED);
  e.setAttribute('stroke-width', w);
  e.setAttribute('stroke-linecap', 'round');
  e.setAttribute('stroke-linejoin', 'round');
  if (dash) e.setAttribute('stroke-dasharray', dash);
}
function redLoop(P, half, w, name, dash) {
  const e = el(redGroup(P), 'path', name);
  e.setAttribute('d', spline(P.px(mirrorLoop(half)), true));
  styleRed(e, w, dash);
}
function redOpen(P, half, w, name, dash) {
  const e = el(redGroup(P), 'path', name);
  e.setAttribute('d', spline(P.px(mirrorOpen(half)), false));
  styleRed(e, w, dash);
}
function redSides(P, half, w, name, dash) {
  const L = el(redGroup(P), 'path', name + '-left');
  L.setAttribute('d', spline(P.px(half.map(q => [90 - q[0], q[1]])), false));
  styleRed(L, w, dash);
  const R = el(redGroup(P), 'path', name + '-right');
  R.setAttribute('d', spline(P.px(half.map(q => [90 + q[0], q[1]])), false));
  styleRed(R, w, dash);
}
function redRings(P, rings, widths, dashes) {
  rings.forEach((r, i) => {
    const e = el(redGroup(P), 'ellipse', P.id + '-orbit-ring');
    e.setAttribute('cx', P.x(90));
    e.setAttribute('cy', (P.y(r[0]) + P.y(r[1])) / 2);
    e.setAttribute('rx', P.x(90 + r[2]) - P.x(90));
    e.setAttribute('ry', (P.y(r[1]) - P.y(r[0])) / 2);
    styleRed(e, widths[i], dashes && dashes[i]);
  });
}
function redScatter(P, pts, rad) {
  pts.forEach(q => {
    [90 - q[0], 90 + q[0]].forEach(gv => {
      const c = el(redGroup(P), 'circle', P.id + '-chaotic-point');
      c.setAttribute('cx', P.x(gv));
      c.setAttribute('cy', P.y(q[1]));
      c.setAttribute('r', rad);
      c.setAttribute('fill', RED);
    });
  });
}
function leftAxes(P, yLabels, xLabelY) {
  frame(P);
  leftXTickLabels.forEach(v => {
    tick(P, P.x(v), P.b, P.x(v), P.b - 7, P.id + '-x-tick');
    label(P, String(v), P.x(v), xLabelY, 'middle', P.id + '-x-tick-label');
  });
  for (let k = Math.ceil(P.ymin / 0.02); k * 0.02 <= P.ymax; k++) {
    const v = k * 0.02;
    const major = k % 5 === 0;
    tick(P, P.l, P.y(v), P.l + (major ? 6 : 3.5), P.y(v), P.id + '-y-tick');
  }
  yLabels.forEach(s => {
    label(P, s, P.l - 5, P.y(parseFloat(s)) + 9, 'end', P.id + '-y-tick-label');
  });
}

/* Panel 1 */
const P1 = makePanel('p1', 75.6, 581.2, 10, 388.8, 53.17, 126.83, 0.2056, 0.8637);
leftBase(P1, p1Domain, '#2a9e84');
region(P1, p1Horseshoe5, '#1e8b8a', 'p1-contour-band-5');
region(P1, p1Horseshoe4, '#187089', 'p1-contour-band-4');
region(P1, p1Horseshoe3, '#16558a', 'p1-contour-band-3');
region(P1, p1Horseshoe2, '#193780', 'p1-contour-band-2');
region(P1, p1Horseshoe1, '#1e0c60', 'p1-contour-band-1');
cap(P1, p1Cap1, '#3aae80', 'p1-bottom-band-1');
cap(P1, p1Cap2, '#4fbb79', 'p1-bottom-band-2');
cap(P1, p1Cap3, '#68c672', 'p1-bottom-band-3');
cap(P1, p1Cap4, '#7bcc6e', 'p1-bottom-band-4');
region(P1, p1Island1, '#48b77c', 'p1-island-1');
region(P1, p1Island2, '#6cc873', 'p1-island-2');
region(P1, p1Island3, '#85d06b', 'p1-island-3');
region(P1, p1Island4, '#a8da63', 'p1-island-4');
region(P1, p1Island5, '#eae552', 'p1-island-5');
redOpen(P1, p1RedBottom, 2.6, 'p1-orbit-bottom', '1.6 1.4');
redOpen(P1, p1RedSaddle, 3, 'p1-orbit-saddle');
redOpen(P1, p1RedLobeTop, 2.6, 'p1-orbit-lobe-top', DOTS);
redSides(P1, p1RedLobe, 3, 'p1-orbit-lobe');
redOpen(P1, p1RedBananaRim, 2.6, 'p1-orbit-banana-rim', DOTS);
redOpen(P1, p1RedBananaTop, 2.6, 'p1-orbit-banana-top', DOTS);
redSides(P1, p1RedBananaLobe, 2.8, 'p1-orbit-banana-lobe');
redOpen(P1, p1RedStrip, 4.6, 'p1-orbit-top-strip');
redLoop(P1, p1RedLoop9, 3, 'p1-orbit-loop-9');
redLoop(P1, p1RedLoop8, 3, 'p1-orbit-loop-8');
redLoop(P1, p1RedLoop7, 3, 'p1-orbit-loop-7');
redLoop(P1, p1RedLoop6, 3, 'p1-orbit-loop-6');
redRings(P1, p1Rings, [3, 2.9, 2.9, 2.9, 3]);
redScatter(P1, p1Scatter, 1.4);
leftAxes(P1, p1YTickLabels, 416);

/* Panel 2 */
const P2 = makePanel('p2', 75.6, 595.4, 490, 878.7, 46.5, 133.5, 0.1922, 0.941);
leftBase(P2, p2Domain, '#5fc378');
arch(P2, p2Arch1, '#3fb07e', 'p2-contour-band-1');
arch(P2, p2Arch2, '#2a9e84', 'p2-contour-band-2');
arch(P2, p2Arch3, '#1d8b88', 'p2-contour-band-3');
arch(P2, p2Arch4, '#187089', 'p2-contour-band-4');
arch(P2, p2Arch5, '#17558a', 'p2-contour-band-5');
arch(P2, p2Arch6, '#193884', 'p2-contour-band-6');
arch(P2, p2Arch7, '#1d0c62', 'p2-contour-band-7');
cap(P2, p2Cap1, '#79cd70', 'p2-bottom-band-1');
region(P2, p2Island1, '#78cc70', 'p2-island-1');
region(P2, p2Island2, '#95d368', 'p2-island-2');
region(P2, p2Island3, '#e9e554', 'p2-island-3');
redSides(P2, p2RedPeak, 3, 'p2-orbit-saddle-peak');
redOpen(P2, p2RedArc, 3.2, 'p2-orbit-bottom-arc');
redOpen(P2, p2RedTop12, 2.6, 'p2-orbit-outer-top', DOTS);
redSides(P2, p2RedSide12, 3, 'p2-orbit-outer');
redOpen(P2, p2RedTop11, 2.6, 'p2-orbit-middle-top', DOTS);
redSides(P2, p2RedSide11, 3, 'p2-orbit-middle');
redOpen(P2, p2RedOpen10, 2.8, 'p2-orbit-inner', '7 2');
redOpen(P2, p2RedRim, 2.6, 'p2-orbit-rim', '0.1 4.4');
redLoop(P2, p2RedBanana, 3, 'p2-orbit-banana');
redLoop(P2, p2RedLoop9, 2.8, 'p2-orbit-loop-9');
redLoop(P2, p2RedLoop8, 2.8, 'p2-orbit-loop-8');
redLoop(P2, p2RedLoop7, 4.4, 'p2-orbit-loop-7');
redLoop(P2, p2RedLoop6, 4.4, 'p2-orbit-loop-6');
redRings(P2, p2Rings, [3, 4.6, 2.7, 2.7, 2.7, 3], [null, null, null, null, null, '0.1 4.2']);
redScatter(P2, p2Scatter, 1.4);
leftAxes(P2, p2YTickLabels, 907);

/* Panel 3 */
const P3 = makePanel('p3', 75.6, 595.4, 980.7, 1370, 50.56, 129.44, 0.2863, 0.9235);
leftBase(P3, p3Domain, '#2ea682');
region(P3, p3Horseshoe6, '#2a9e84', 'p3-contour-band-6');
region(P3, p3Horseshoe5, '#1e8b8a', 'p3-contour-band-5');
region(P3, p3Horseshoe4, '#187089', 'p3-contour-band-4');
region(P3, p3Horseshoe3, '#17558a', 'p3-contour-band-3');
region(P3, p3Horseshoe2, '#193884', 'p3-contour-band-2');
region(P3, p3Horseshoe1, '#1e0c60', 'p3-contour-band-1');
cap(P3, p3Cap1, '#45b57c', 'p3-bottom-band-1');
cap(P3, p3Cap2, '#62c677', 'p3-bottom-band-2');
cap(P3, p3Cap3, '#78cc70', 'p3-bottom-band-3');
cap(P3, p3Cap4, '#9dd667', 'p3-bottom-band-4');
region(P3, p3Island1, '#46b57c', 'p3-island-1');
region(P3, p3Island2, '#62c577', 'p3-island-2');
region(P3, p3Island3, '#7dce6e', 'p3-island-3');
region(P3, p3Island4, '#9ad667', 'p3-island-4');
region(P3, p3Island5, '#ebe553', 'p3-island-5');
redSides(P3, p3RedCorner, 3, 'p3-orbit-corner', '4 1.5');
redOpen(P3, p3RedBottom, 3, 'p3-orbit-bottom', '4 1.5');
redOpen(P3, p3RedSaddle, 3.2, 'p3-orbit-saddle');
redOpen(P3, p3RedLobe3, 2.6, 'p3-orbit-lobe-3', '1.6 1.6');
redOpen(P3, p3RedLobe2Top, 2.6, 'p3-orbit-lobe-2-top', DOTS);
redSides(P3, p3RedLobe2, 3, 'p3-orbit-lobe-2');
redOpen(P3, p3RedLobe1Top, 2.6, 'p3-orbit-lobe-1-top', DOTS);
redSides(P3, p3RedLobe1, 3, 'p3-orbit-lobe-1');
redOpen(P3, p3RedTop, 2.6, 'p3-orbit-top', '3 2.5');
redOpen(P3, p3RedBananaOuterTop, 2.6, 'p3-orbit-banana-outer-top', '3 2.5');
redOpen(P3, p3RedBananaInnerTop, 2.6, 'p3-orbit-banana-inner-top', '3 2.5');
redSides(P3, p3RedBananaSide, 2.7, 'p3-orbit-banana-side');
redLoop(P3, p3RedLoop6, 2.6, 'p3-orbit-loop-6', '1.2 2');
redLoop(P3, p3RedLoop5, 2.6, 'p3-orbit-loop-5', '1.2 2');
redLoop(P3, p3RedLoop4, 4.8, 'p3-orbit-loop-4');
redRings(P3, p3Rings, [3, 4.4, 4.2, 2.8]);
redScatter(P3, p3Scatter, 1.4);
leftAxes(P3, p3YTickLabels, 1397.5);

/* ---------- right column ---------- */
function rightPanel(id, t, b, ymax, grays, dotsA, dotsB, labelY) {
  const P = makePanel(id, 678.6, 1185, t, b, 38, 90, 0.1, ymax);
  frameClip(P);
  const curves = el(P.g, 'g', id + '-constant-energy-curves');
  curves.setAttribute('clip-path', 'url(#' + id + '-frame-clip)');
  grays.forEach((series, i) => {
    const e = el(curves, 'path', id + '-gray-contour');
    e.setAttribute('d', spline(P.px(series), false));
    const shade = Math.round(198 + i * (242 - 198) / (grays.length - 1));
    e.setAttribute('stroke', 'rgb(' + shade + ',' + shade + ',' + shade + ')');
    e.setAttribute('stroke-width', '1.1');
    e.setAttribute('fill', 'none');
  });
  const z = el(curves, 'path', id + '-zlk-center-line');
  z.setAttribute('d', spline(P.px(zlkCenter), false));
  z.setAttribute('fill', 'none');
  z.setAttribute('stroke', '#000');
  z.setAttribute('stroke-width', '2.8');
  z.setAttribute('stroke-dasharray', '8 5');
  [dotsA, dotsB].forEach(series => {
    series.forEach(q => {
      const c = el(P.g, 'circle', id + '-analytical-point');
      c.setAttribute('cx', P.x(q[0]));
      c.setAttribute('cy', P.y(q[1]));
      c.setAttribute('r', '3.6');
      c.setAttribute('fill', RED);
    });
  });
  frame(P);
  for (let v = 38; v <= 90; v += 2) {
    const major = v % 10 === 0;
    tick(P, P.x(v), P.b, P.x(v), P.b - (major ? 6 : 3.5), id + '-x-tick-bottom');
    tick(P, P.x(v), P.t, P.x(v), P.t + (major ? 6 : 3.5), id + '-x-tick-top');
  }
  for (let k = 2; k <= 20; k++) {
    const v = k * 0.05;
    const major = k % 4 === 0;
    tick(P, P.l, P.y(v), P.l + (major ? 6 : 3.5), P.y(v), id + '-y-tick-left');
    tick(P, P.r, P.y(v), P.r - (major ? 6 : 3.5), P.y(v), id + '-y-tick-right');
  }
  rightXTickLabels.forEach(v => {
    label(P, String(v), P.x(v), labelY, 'middle', id + '-x-tick-label');
  });
  rightYTickLabels.forEach(s => {
    label(P, s, 673.5, P.y(parseFloat(s)) + 9, 'end', id + '-y-tick-label');
  });
}
rightPanel('p1r', 7.3, 387.3, 1.0105,
  [p1Gray1, p1Gray2, p1Gray3, p1Gray4, p1Gray5, p1Gray6, p1Gray7, p1Gray8, p1Gray9, p1Gray10, p1Gray11],
  p1AnalyticalA, p1AnalyticalB, 414.5);
rightPanel('p2r', 499, 878, 1.009,
  [p2Gray1, p2Gray2, p2Gray3, p2Gray4, p2Gray5, p2Gray6, p2Gray7, p2Gray8, p2Gray9, p2Gray10, p2Gray11],
  p2AnalyticalA, p2AnalyticalB, 905);
rightPanel('p3r', 989.7, 1369, 1.0103,
  [p3Gray1, p3Gray2, p3Gray3, p3Gray4, p3Gray5, p3Gray6, p3Gray7, p3Gray8, p3Gray9, p3Gray10],
  p3AnalyticalA, p3AnalyticalB, 1396.5);
</script>
</body>
</html>
